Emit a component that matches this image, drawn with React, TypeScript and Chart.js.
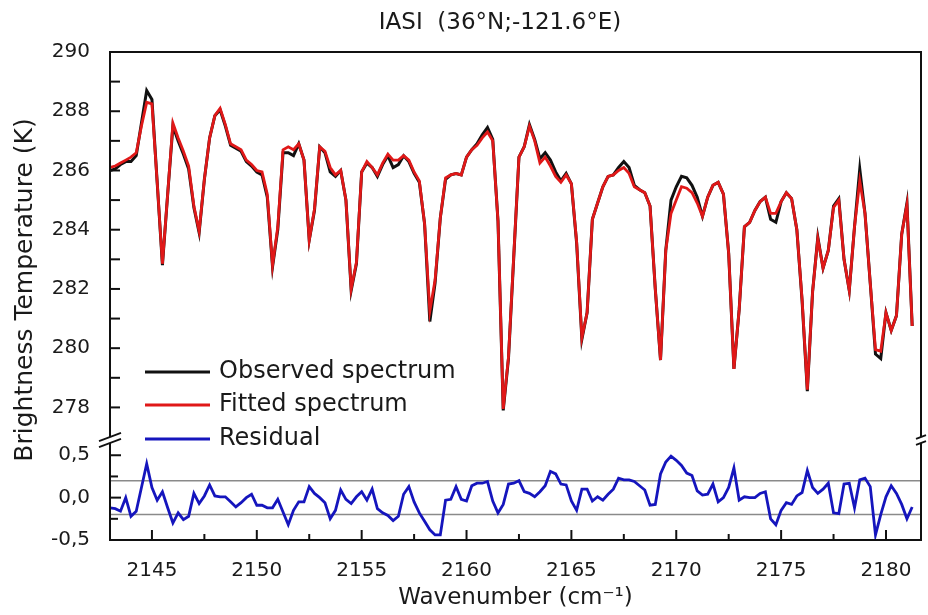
import React, { useEffect, useRef } from 'react';
import { Chart, registerables } from 'chart.js';

Chart.register(...registerables);

// ---- data -------------------------------------------------------------
const WN_START = 2143;
const WN_STEP = 0.25;

const OBSERVED = [
  286.0, 286.05, 286.2, 286.3, 286.3, 286.5, 287.6, 288.7, 288.4, 285.6,
  282.8, 285.2, 287.5, 287.0, 286.55, 286.05, 284.75, 283.9, 285.7, 287.1,
  287.85, 288.05, 287.5, 286.85, 286.75, 286.65, 286.3, 286.15, 285.95, 285.85,
  285.1, 282.75, 284.0, 286.6, 286.6, 286.5, 286.9, 286.35, 283.65, 284.65,
  286.8, 286.6, 285.95, 285.8, 286.0, 285.0, 281.95, 282.85, 285.95, 286.25,
  286.1, 285.8, 286.2, 286.5, 286.1, 286.2, 286.5, 286.3, 285.9, 285.6,
  284.2, 280.9, 282.2, 284.4, 285.7, 285.85, 285.9, 285.85, 286.45, 286.7,
  286.9, 287.2, 287.45, 287.05, 284.3, 277.9, 279.65, 283.05, 286.45, 286.8,
  287.55, 287.05, 286.4, 286.6, 286.35, 285.95, 285.65, 285.9, 285.55, 283.55,
  280.3, 281.2, 284.35, 284.9, 285.45, 285.8, 285.85, 286.1, 286.3, 286.1,
  285.5, 285.35, 285.25, 284.8, 282.0, 279.6, 283.3, 285.0, 285.45, 285.8,
  285.75, 285.5, 285.1, 284.45, 285.1, 285.5, 285.6, 285.2, 283.2, 279.3,
  281.3, 284.1, 284.25, 284.65, 284.95, 285.1, 284.35, 284.25, 284.95, 285.25,
  285.05, 284.0, 281.6, 278.55, 281.9, 283.75, 282.7, 283.3, 284.8, 285.05,
  283.0, 281.95, 284.1, 286.05, 284.55, 282.2, 279.8, 279.65, 281.2, 280.6,
  281.1, 283.85, 284.9, 280.75,
];

const FITTED = [
  286.1, 286.15, 286.25, 286.35, 286.45, 286.6, 287.5, 288.3, 288.25, 285.6,
  282.85, 285.2, 287.6, 287.1, 286.65, 286.15, 284.8, 283.95, 285.7, 287.1,
  287.85, 288.1, 287.55, 286.9, 286.8, 286.7, 286.35, 286.2, 286.0, 285.95,
  285.2, 282.8, 284.1, 286.7, 286.8, 286.7, 286.9, 286.35, 283.65, 284.7,
  286.8, 286.65, 286.1, 285.85, 286.0, 285.0, 282.0, 282.9, 285.95, 286.3,
  286.1, 285.85, 286.25, 286.55, 286.35, 286.35, 286.5, 286.35, 285.95, 285.65,
  284.2, 281.25, 282.3, 284.4, 285.75, 285.85, 285.9, 285.85, 286.45, 286.7,
  286.85, 287.1, 287.3, 287.0, 284.3, 277.95, 279.7, 283.1, 286.45, 286.8,
  287.5, 287.0, 286.25, 286.45, 286.15, 285.8, 285.6, 285.85, 285.55, 283.6,
  280.35, 281.2, 284.35, 284.9, 285.45, 285.8, 285.85, 286.0, 286.1, 285.9,
  285.45, 285.35, 285.25, 284.8, 282.0, 279.6, 283.3, 284.55, 285.0, 285.45,
  285.4, 285.25, 284.9, 284.45, 285.1, 285.5, 285.6, 285.2, 283.2, 279.3,
  281.3, 284.1, 284.25, 284.65, 284.95, 285.1, 284.55, 284.55, 284.95, 285.25,
  285.05, 284.0, 281.65, 278.6, 281.9, 283.7, 282.7, 283.3, 284.75, 285.0,
  283.0, 281.95, 284.1, 285.65, 284.55, 282.2, 279.95, 279.9, 281.2, 280.6,
  281.1, 283.85, 284.85, 280.75,
];

const RESIDUAL = [
  -0.12, -0.13, -0.16, 0.0, -0.22, -0.16, 0.12, 0.4, 0.12, -0.03,
  0.07, -0.12, -0.3, -0.18, -0.26, -0.22, 0.05, -0.07, 0.02, 0.15,
  0.02, 0.01, 0.01, -0.05, -0.11, -0.06, 0.0, 0.04, -0.09, -0.09,
  -0.12, -0.12, -0.02, -0.17, -0.32, -0.15, -0.05, -0.05, 0.13, 0.05,
  0.0, -0.06, -0.25, -0.15, 0.09, -0.02, -0.07, 0.01, 0.07, -0.03,
  0.1, -0.13, -0.18, -0.21, -0.27, -0.22, 0.04, 0.13, -0.05, -0.18,
  -0.28, -0.38, -0.44, -0.44, -0.03, -0.02, 0.13, -0.02, -0.04, 0.14,
  0.17, 0.17, 0.19, -0.04, -0.18, -0.08, 0.16, 0.17, 0.2, 0.07,
  0.05, 0.01, 0.07, 0.14, 0.31, 0.28, 0.16, 0.15, -0.04, -0.15,
  0.1, 0.1, -0.04, 0.01, -0.03, 0.04, 0.1, 0.23, 0.21, 0.21,
  0.19, 0.14, 0.09, -0.09, -0.08, 0.28, 0.42, 0.49, 0.44, 0.38,
  0.29, 0.26, 0.08, 0.03, 0.04, 0.16, -0.05, 0.0, 0.12, 0.35,
  -0.03, 0.01, 0.0, 0.0, 0.05, 0.07, -0.25, -0.32, -0.15, -0.06,
  -0.08, 0.02, 0.06, 0.32, 0.12, 0.05, 0.1, 0.17, -0.18, -0.19,
  0.16, 0.17, -0.12, 0.21, 0.23, 0.13, -0.44, -0.2, 0.01, 0.14,
  0.05, -0.08, -0.25, -0.11,
];

const WAVENUMBERS = OBSERVED.map((_, i) => WN_START + i * WN_STEP);

// ---- axes / labels ----------------------------------------------------
const X_MIN = 2143;
const X_MAX = 2181.67;
const T_MIN = 276.9;
const T_MAX = 290;
const R_MIN = -0.5;
const R_MAX = 0.68;

const X_MAJOR = [2145, 2150, 2155, 2160, 2165, 2170, 2175, 2180];
const X_MINOR = [2147.5, 2152.5, 2157.5, 2162.5, 2167.5, 2172.5, 2177.5];
const T_MAJOR = [278, 280, 282, 284, 286, 288, 290];
const T_MINOR = [279, 281, 283, 285, 287, 289];
const R_MAJOR = [-0.5, 0, 0.5];
const R_MINOR = [-0.25, 0.25];
const R_REF = [0.2, -0.2];

const TITLE = 'IASI  (36°N;-121.6°E)';
const Y_TITLE = 'Brightness Temperature (K)';
const X_TITLE = 'Wavenumber (cm⁻¹)';
const SERIES_LABELS = ['Observed spectrum', 'Fitted spectrum', 'Residual'];
const SERIES_COLORS = ['#111111', '#e01818', '#1515bd'];

const FONT = '"DejaVu Sans", Verdana, sans-serif';
const TEXT = '#1a1a1a';

const decor = {
  id: 'decor',
  beforeDatasetsDraw(chart: any) {
    const { ctx, chartArea: ca, scales } = chart;
    const yr = scales.yr;
    ctx.save();
    ctx.strokeStyle = '#8a8a8a';
    ctx.lineWidth = 1.5;
    R_REF.forEach((v) => {
      const py = yr.getPixelForValue(v);
      ctx.beginPath();
      ctx.moveTo(ca.left, py);
      ctx.lineTo(ca.right, py);
      ctx.stroke();
    });
    ctx.restore();
  },
  afterDraw(chart: any) {
    const { ctx, chartArea: ca, scales } = chart;
    const { x, y, yr } = scales;
    ctx.save();
    // frame
    ctx.strokeStyle = '#111';
    ctx.lineWidth = 2;
    ctx.strokeRect(ca.left, ca.top, ca.right - ca.left, ca.bottom - ca.top);

    // inward tick marks
    ctx.lineWidth = 2;
    const tick = (x0: number, y0: number, x1: number, y1: number) => {
      ctx.beginPath();
      ctx.moveTo(x0, y0);
      ctx.lineTo(x1, y1);
      ctx.stroke();
    };
    X_MAJOR.forEach((v) => { const p = x.getPixelForValue(v); tick(p, ca.bottom, p, ca.bottom - 10); });
    X_MINOR.forEach((v) => { const p = x.getPixelForValue(v); tick(p, ca.bottom, p, ca.bottom - 6); });
    [...T_MAJOR, ...T_MINOR].forEach((v) => { const p = y.getPixelForValue(v); tick(ca.left, p, ca.left + 10, p); });
    R_MAJOR.forEach((v) => { const p = yr.getPixelForValue(v); tick(ca.left, p, ca.left + 11, p); });
    R_MINOR.forEach((v) => { const p = yr.getPixelForValue(v); tick(ca.left, p, ca.left + 8, p); });

    // axis breaks
    const by = yr.top;
    const brk = (bx: number, half: number) => {
      ctx.fillStyle = '#fff';
      ctx.fillRect(bx - 2, by - 3, 4, 6);
      ctx.strokeStyle = '#111';
      ctx.lineWidth = 1.8;
      [-3, 3].forEach((d) => {
        ctx.beginPath();
        ctx.moveTo(bx - half, by + d + half * 0.38);
        ctx.lineTo(bx + half, by + d - half * 0.38);
        ctx.stroke();
      });
    };
    brk(ca.left, 11);
    brk(ca.right, 5);

    // legend
    const rows = [372, 405, 439];
    ctx.font = `24px ${FONT}`;
    ctx.textBaseline = 'middle';
    ctx.textAlign = 'left';
    chart.data.datasets.forEach((ds: any, i: number) => {
      const ry = rows[i];
      ctx.strokeStyle = ds.borderColor;
      ctx.lineWidth = 3;
      ctx.beginPath();
      ctx.moveTo(145, ry);
      ctx.lineTo(210, ry);
      ctx.stroke();
      ctx.fillStyle = TEXT;
      ctx.fillText(ds.label, 219, ry);
    });

    // title
    ctx.font = `23px ${FONT}`;
    ctx.textAlign = 'center';
    ctx.fillStyle = TEXT;
    ctx.fillText(TITLE, 500, 23);

    // y title
    ctx.translate(25, 290);
    ctx.rotate(-Math.PI / 2);
    ctx.font = `25px ${FONT}`;
    ctx.fillText(Y_TITLE, 0, 0);
    ctx.restore();
  },
};

const tickFont = { family: FONT, size: 20 };

export default function App() {
  const ref = useRef<HTMLCanvasElement | null>(null);
  useEffect(() => {
    if (!ref.current) return;
    const chart = new Chart(ref.current, {
      type: 'line',
      data: {
        datasets: [
          {
            label: SERIES_LABELS[0],
            data: WAVENUMBERS.map((w, i) => ({ x: w, y: OBSERVED[i] })),
            yAxisID: 'y',
            borderColor: SERIES_COLORS[0],
            borderWidth: 3,
            pointRadius: 0,
            order: 2,
          },
          {
            label: SERIES_LABELS[1],
            data: WAVENUMBERS.map((w, i) => ({ x: w, y: FITTED[i] })),
            yAxisID: 'y',
            borderColor: SERIES_COLORS[1],
            borderWidth: 2.8,
            pointRadius: 0,
            order: 1,
          },
          {
            label: SERIES_LABELS[2],
            data: WAVENUMBERS.map((w, i) => ({ x: w, y: RESIDUAL[i] })),
            yAxisID: 'yr',
            borderColor: SERIES_COLORS[2],
            borderWidth: 2.8,
            pointRadius: 0,
            order: 0,
          },
        ],
      },
      options: {
        responsive: false,
        animation: false,
        devicePixelRatio: 1,
        layout: { padding: { top: 52, right: 7, left: 0, bottom: 0 } },
        plugins: {
          legend: { display: false },
          tooltip: { enabled: false },
          title: { display: false },
        },
        scales: {
          x: {
            type: 'linear',
            min: X_MIN,
            max: X_MAX,
            grid: { display: false },
            border: { display: false },
            afterBuildTicks: (s: any) => { s.ticks = X_MAJOR.map((v) => ({ value: v })); },
            afterFit: (s: any) => { s.height = 75; },
            ticks: {
              padding: 11,
              font: tickFont,
              color: TEXT,
              autoSkip: false,
              maxRotation: 0,
              callback: (v: any) => String(v),
            },
            title: {
              display: true,
              text: X_TITLE,
              font: { family: FONT, size: 23 },
              color: TEXT,
              padding: { top: 0, bottom: 3 },
            },
          },
          y: {
            type: 'linear',
            position: 'left',
            stack: 'main',
            stackWeight: 388,
            weight: 2,
            min: T_MIN,
            max: T_MAX,
            grid: { display: false },
            border: { display: false },
            afterBuildTicks: (s: any) => { s.ticks = T_MAJOR.map((v) => ({ value: v })); },
            afterFit: (s: any) => { s.width = 110; },
            ticks: { padding: 12, font: tickFont, color: TEXT, callback: (v: any) => String(v) },
          },
          yr: {
            type: 'linear',
            position: 'left',
            stack: 'main',
            stackWeight: 100,
            weight: 1,
            min: R_MIN,
            max: R_MAX,
            grid: { display: false },
            border: { display: false },
            afterBuildTicks: (s: any) => { s.ticks = R_MAJOR.map((v) => ({ value: v })); },
            afterFit: (s: any) => { s.width = 110; },
            ticks: {
              padding: 12,
              font: tickFont,
              color: TEXT,
              callback: (v: any) => Number(v).toFixed(1).replace('.', ','),
            },
          },
        },
      } as any,
      plugins: [decor],
    });
    return () => chart.destroy();
  }, []);

  return (
    <div style={{ position: 'absolute', left: 0, top: 0, width: 928, height: 615, background: '#fff' }}>
      <canvas ref={ref} width={928} height={615} />
    </div>
  );
}
